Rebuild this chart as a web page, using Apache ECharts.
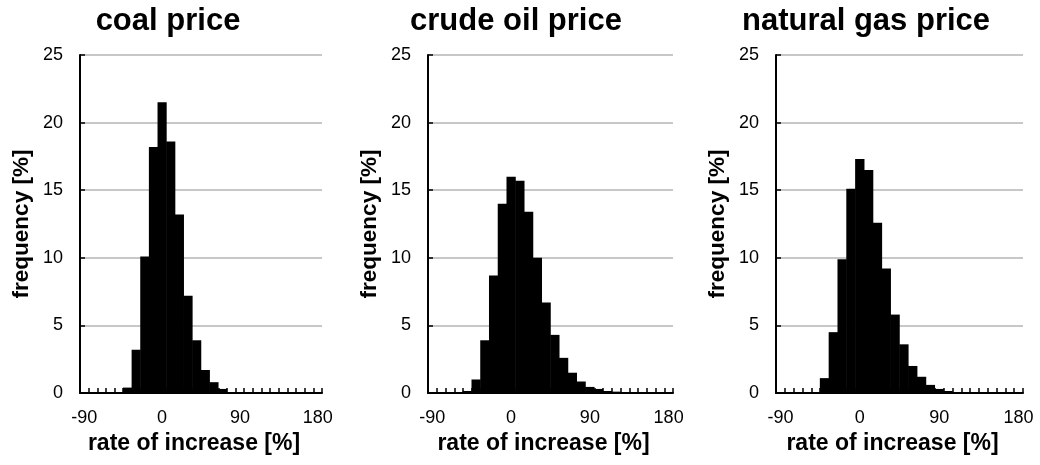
<!DOCTYPE html>
<html>
<head>
<meta charset="utf-8">
<script src="https://cdn.jsdelivr.net/npm/echarts@6/dist/echarts.min.js"></script>
<style>
  html, body { margin: 0; padding: 0; background: #fff; }
  #chart { width: 1040px; height: 465px; }
</style>
</head>
<body>
<div id="chart"></div>
<script>
// Bin labels: rate of increase [%], 10-point bins from -90 to 180
const bins = ['-90','-80','-70','-60','-50','-40','-30','-20','-10','0',
  '10','20','30','40','50','60','70','80','90','100',
  '110','120','130','140','150','160','170','180'];

// Frequency [%] per bin
const coalFreq = [0, 0, 0, 0, 0.05, 0.4, 3.2, 10.1, 18.2, 21.5,
  18.6, 13.2, 7.2, 3.9, 1.7, 0.8, 0.3, 0.05, 0, 0,
  0, 0, 0, 0, 0, 0, 0, 0];
const crudeFreq = [0, 0, 0, 0, 0.15, 1.0, 3.9, 8.7, 14.0, 16.0,
  15.7, 13.4, 10.0, 6.7, 4.3, 2.6, 1.5, 0.85, 0.45, 0.3,
  0.15, 0.1, 0.05, 0.03, 0, 0, 0, 0];
const gasFreq = [0, 0, 0, 0, 0.05, 1.1, 4.5, 9.9, 15.1, 17.3,
  16.5, 12.6, 9.2, 5.8, 3.6, 2.0, 1.2, 0.6, 0.3, 0.15,
  0.05, 0, 0, 0, 0, 0, 0, 0];

const panelTitles = ['coal price', 'crude oil price', 'natural gas price'];
const yTicks = [0, 5, 10, 15, 20, 25];

const FONT = '"Liberation Sans", Arial, Helvetica, sans-serif';
const panels = [
  { data: coalFreq,  left: 80,  width: 242, titleX: 163 },
  { data: crudeFreq, left: 428, width: 245, titleX: 511 },
  { data: gasFreq,   left: 776, width: 247, titleX: 861 }
];

const option = {
  animation: false,
  backgroundColor: '#ffffff',
  title: panels.map((p, i) => ({
    text: panelTitles[i],
    left: p.titleX,
    top: 1,
    textAlign: 'center',
    textStyle: { fontFamily: FONT, fontSize: 31, fontWeight: 'bold', color: '#000' }
  })),
  grid: panels.map(p => ({ left: p.left, width: p.width, top: 55, height: 338 })),
  xAxis: panels.map((p, i) => ({
    type: 'category',
    gridIndex: i,
    data: bins,
    boundaryGap: true,
    name: 'rate of increase [%]',
    nameLocation: 'middle',
    nameGap: 39,
    nameTextStyle: { fontFamily: FONT, fontSize: 23, fontWeight: 'bold', color: '#000', padding: [0, 14, 0, 0] },
    axisLine: { show: true, lineStyle: { color: '#000', width: 2 } },
    axisTick: { show: true, inside: true, length: 5, interval: 0, lineStyle: { color: '#000', width: 1.5 } },
    axisLabel: { interval: 8, margin: 16, fontFamily: FONT, fontSize: 18, color: '#000' },
    splitLine: { show: false }
  })),
  yAxis: panels.map((p, i) => ({
    type: 'value',
    gridIndex: i,
    min: yTicks[0],
    max: yTicks[yTicks.length - 1],
    interval: 5,
    name: 'frequency [%]',
    nameLocation: 'middle',
    nameGap: 47,
    nameRotate: 90,
    nameTextStyle: { fontFamily: FONT, fontSize: 22.5, fontWeight: 'bold', color: '#000' },
    axisLine: { show: true, lineStyle: { color: '#000', width: 2 } },
    axisTick: { show: true, inside: true, length: 5, lineStyle: { color: '#000', width: 1.5 } },
    axisLabel: { margin: 17, fontFamily: FONT, fontSize: 18, color: '#000' },
    splitLine: { show: true, lineStyle: { color: '#b4b4b4', width: 1.5 } }
  })),
  series: panels.map((p, i) => ({
    type: 'bar',
    xAxisIndex: i,
    yAxisIndex: i,
    data: p.data,
    // slightly wider than the band so neighbouring bins join without seams
    barWidth: '106%',
    itemStyle: { color: '#000' },
    z: 3
  }))
};

const chart = echarts.init(document.getElementById('chart'), null, { renderer: 'canvas' });
chart.setOption(option);
</script>
</body>
</html>
